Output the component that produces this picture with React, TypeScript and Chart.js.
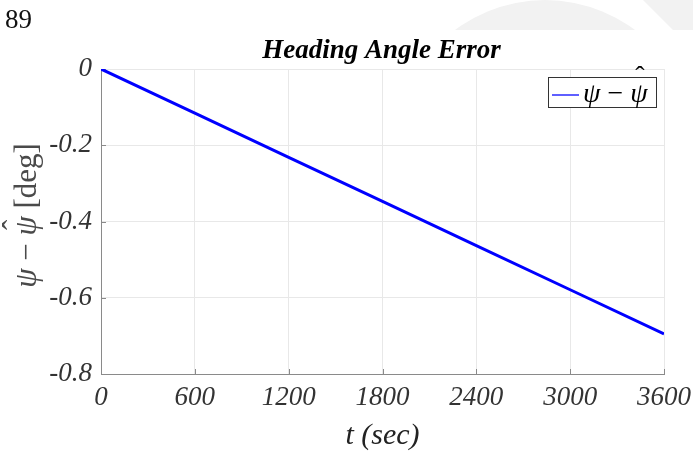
import React, { useEffect, useRef } from 'react';
import { Chart, registerables } from 'chart.js';

Chart.register(...registerables);

// ---- data ----
const timeSec = [0, 600, 1200, 1800, 2400, 3000, 3600];
const headingErrorDeg = [0, -0.116, -0.232, -0.347, -0.463, -0.579, -0.695];
const xTicks = [0, 600, 1200, 1800, 2400, 3000, 3600];
const yTicks = [-0.8, -0.6, -0.4, -0.2, 0];
const titleText = 'Heading Angle Error';
const pageNumber = '89';
const xAxisTitle = 't (sec)';
const seriesLabel = 'ψ − ψ̂';

const SERIF = '"Liberation Serif", "Times New Roman", serif';
const AXIS_COLOR = '#8a8a8a';
const GRID_COLOR = '#e8e8e8';

function fmtY(v: number) {
  if (Math.abs(v) < 1e-9) return '0';
  return v.toFixed(1);
}

// draw "ψ − ψ̂" style text: italic psi pieces with a hat over the second psi
function drawPsiExpr(
  ctx: CanvasRenderingContext2D,
  x: number,
  y: number,
  size: number,
  color: string,
  suffix: string,
  hatShift: number
) {
  const it = `italic ${size}px ${SERIF}`;
  const rg = `${size}px ${SERIF}`;
  ctx.fillStyle = color;
  ctx.textBaseline = 'alphabetic';
  ctx.textAlign = 'left';
  let cx = x;
  ctx.font = it;
  ctx.fillText('ψ', cx, y);
  cx += ctx.measureText('ψ').width;
  ctx.font = rg;
  const minus = ' − ';
  ctx.fillText(minus, cx, y);
  cx += ctx.measureText(minus).width;
  ctx.font = it;
  const pw = ctx.measureText('ψ').width;
  ctx.fillText('ψ', cx, y);
  ctx.font = rg;
  const hw = ctx.measureText('ˆ').width;
  ctx.fillText('ˆ', cx + pw / 2 - hw / 2 + size * 0.04, y - size * hatShift);
  cx += pw;
  if (suffix) {
    ctx.font = rg;
    ctx.fillText(suffix, cx, y);
    cx += ctx.measureText(suffix).width;
  }
  return cx - x;
}

function measurePsiExpr(ctx: CanvasRenderingContext2D, size: number, suffix: string) {
  ctx.save();
  ctx.font = `italic ${size}px ${SERIF}`;
  let w = ctx.measureText('ψ').width * 2;
  ctx.font = `${size}px ${SERIF}`;
  w += ctx.measureText(' − ').width;
  if (suffix) w += ctx.measureText(suffix).width;
  ctx.restore();
  return w;
}

const decorPlugin = {
  id: 'decor',
  beforeDraw(chart: any) {
    const { ctx, width, height } = chart;
    ctx.save();
    ctx.fillStyle = '#ffffff';
    ctx.fillRect(0, 0, width, height);
    // faint page watermark above the figure
    ctx.beginPath();
    ctx.rect(0, 0, width, 30);
    ctx.clip();
    ctx.fillStyle = '#f2f2f2';
    ctx.beginPath();
    ctx.arc(545, 150, 150, 0, Math.PI * 2);
    ctx.fill();
    ctx.beginPath();
    ctx.moveTo(643, 0);
    ctx.lineTo(693, 0);
    ctx.lineTo(693, 30);
    ctx.lineTo(673, 30);
    ctx.closePath();
    ctx.fill();
    ctx.restore();

    ctx.save();
    // page number
    ctx.font = `27px ${SERIF}`;
    ctx.fillStyle = '#111';
    ctx.textAlign = 'left';
    ctx.textBaseline = 'alphabetic';
    ctx.fillText(pageNumber, 5, 28);
    // title
    const ca = chart.chartArea;
    ctx.font = `italic bold 27px ${SERIF}`;
    ctx.textAlign = 'center';
    ctx.fillStyle = '#000';
    ctx.fillText(titleText, (ca.left + ca.right) / 2 - 1, 58);
    ctx.restore();
  },
  beforeDatasetsDraw(chart: any) {
    const { ctx, chartArea: ca, scales } = chart;
    ctx.save();
    ctx.strokeStyle = AXIS_COLOR;
    ctx.lineWidth = 1;
    ctx.beginPath();
    for (const v of xTicks) {
      const px = Math.round(scales.x.getPixelForValue(v)) + 0.5;
      ctx.moveTo(px, ca.bottom);
      ctx.lineTo(px, ca.bottom - 5);
    }
    for (const v of yTicks) {
      const py = Math.round(scales.y.getPixelForValue(v)) + 0.5;
      ctx.moveTo(ca.left, py);
      ctx.lineTo(ca.left + 5, py);
    }
    ctx.stroke();
    ctx.restore();
  },
  afterDraw(chart: any) {
    const { ctx, chartArea: ca } = chart;
    ctx.save();
    // legend box
    const bw = 108, bh = 30;
    const bx = ca.right - 8 - bw;
    const by = ca.top + 8;
    ctx.fillStyle = '#fff';
    ctx.fillRect(bx, by, bw, bh);
    ctx.strokeStyle = '#333';
    ctx.lineWidth = 1;
    ctx.strokeRect(Math.round(bx) + 0.5, Math.round(by) + 0.5, bw, bh);
    ctx.strokeStyle = '#2a2aff';
    ctx.lineWidth = 1.5;
    ctx.beginPath();
    ctx.moveTo(bx + 4, by + 18);
    ctx.lineTo(bx + 31, by + 18);
    ctx.stroke();
    drawPsiExpr(ctx, bx + 35, by + 25, 28, '#000', '', 0.6);

    // y axis title rotated
    const size = 31;
    const w = measurePsiExpr(ctx, size, ' [deg]');
    const cy = (ca.top + ca.bottom) / 2 - 6;
    ctx.translate(36, cy);
    ctx.rotate(-Math.PI / 2);
    drawPsiExpr(ctx, -w / 2, 0, size, '#4a4a4a', ' [deg]', 0.4);
    ctx.restore();
  },
};

export default function App() {
  const ref = useRef<HTMLCanvasElement | null>(null);

  useEffect(() => {
    if (!ref.current) return;
    const points = timeSec.map((t, i) => ({ x: t, y: headingErrorDeg[i] }));
    const tickFont = { family: SERIF, style: 'italic' as const, size: 27 };
    const chart = new Chart(ref.current, {
      type: 'line',
      data: {
        datasets: [
          {
            label: seriesLabel,
            data: points,
            borderColor: '#0000ff',
            backgroundColor: '#0000ff',
            borderWidth: 3,
            pointRadius: 0,
            tension: 0,
            fill: false,
          },
        ],
      },
      options: {
        animation: false,
        responsive: false,
        events: [],
        layout: { padding: { left: 0, right: 29, top: 69, bottom: 0 } },
        plugins: {
          legend: { display: false },
          title: { display: false },
          tooltip: { enabled: false },
        },
        scales: {
          x: {
            type: 'linear',
            min: 0,
            max: 3600,
            afterBuildTicks: (s: any) => {
              s.ticks = xTicks.map((v) => ({ value: v }));
            },
            afterFit: (s: any) => {
              s.height = 77;
              s.paddingLeft = 0;
              s.paddingRight = 0;
            },
            grid: { color: GRID_COLOR, lineWidth: 1, drawTicks: false },
            border: { color: AXIS_COLOR, width: 1 },
            ticks: {
              font: tickFont,
              color: '#333',
              padding: 8,
              maxRotation: 0,
              autoSkip: false,
              callback: (v: any) => String(v),
            },
            title: {
              display: true,
              text: xAxisTitle,
              font: { family: SERIF, style: 'italic', size: 30, lineHeight: 1 },
              color: '#222',
              padding: 0,
            },
          },
          y: {
            type: 'linear',
            min: -0.8,
            max: 0,
            afterBuildTicks: (s: any) => {
              s.ticks = yTicks.map((v) => ({ value: v }));
            },
            afterFit: (s: any) => {
              s.width = 101;
              s.paddingTop = 0;
              s.paddingBottom = 0;
            },
            grid: { color: GRID_COLOR, lineWidth: 1, drawTicks: false },
            border: { color: AXIS_COLOR, width: 1 },
            ticks: {
              font: tickFont,
              color: '#333',
              padding: 9,
              autoSkip: false,
              callback: (v: any) => fmtY(Number(v)),
            },
          },
        },
      },
      plugins: [decorPlugin],
    });
    return () => chart.destroy();
  }, []);

  return (
    <div style={{ position: 'fixed', left: 0, top: 0, width: 693, height: 451, background: '#fff' }}>
      <canvas ref={ref} width={693} height={451} style={{ display: 'block' }} />
    </div>
  );
}
